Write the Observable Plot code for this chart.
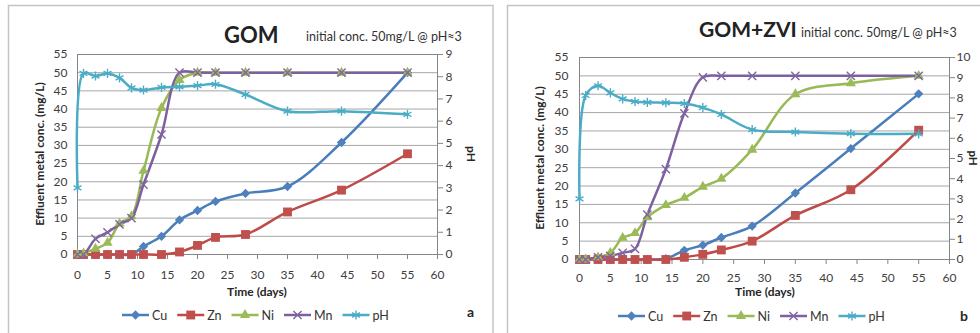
<!DOCTYPE html>
<html><head><meta charset="utf-8">
<script src="https://cdn.jsdelivr.net/npm/d3@7"></script>
<script src="https://cdn.jsdelivr.net/npm/@observablehq/plot@0.6"></script>
<style>
html,body{margin:0;padding:0;background:#fff;}
#root{position:relative;width:980px;height:333px;overflow:hidden;font-family:Lato,"Open Sans",sans-serif;}
#root svg{position:absolute;top:0;}
</style></head><body><div id="root"></div>
<script>
// ---- data ----
const days = [0,1,3,5,7,9,11,14,17,20,23,28,35,44,55];
// Panel a: GOM
const gomCu = [0,0,0,0,0,0,2.2,5,9.5,12.1,14.6,16.8,18.7,30.8,50];
const gomZn = [0,0,0,0,0,0,0,0,0.7,2.5,4.7,5.5,11.7,17.7,27.7];
const gomNi = [0,0.3,1.6,3.2,8.5,10.5,23,40.3,48,50,50,50,50,50,50];
const gomMn = [0,0,4.3,6.1,8.3,10,19.2,33,50,50,50,50,50,50,50];
const gomPH = [3.0,8.15,8.03,8.15,7.95,7.5,7.4,7.52,7.54,7.6,7.66,7.2,6.45,6.45,6.31];
// Panel b: GOM+ZVI
const zviCu = [0,0,0,0,0,0,0,0.2,2.5,3.9,6,9.1,18.1,30.2,45.1];
const zviZn = [0,0,0,0,0,0,0,0,0.6,1.4,2.6,5,12,19,35.2];
const zviNi = [0,0,0.6,1.8,5.9,7.2,11.5,14.8,16.8,19.8,22,29.9,45,48,50];
const zviMn = [0,0,0.6,1,1.8,2.9,12.2,24.6,39.8,49.6,50,50,50,50,50];
const zviPH = [3.0,8.12,8.6,8.25,7.95,7.82,7.78,7.76,7.72,7.52,7.18,6.43,6.31,6.23,6.22];

const seriesNames = ["Cu","Zn","Ni","Mn","pH"];
const xTicks = d3.range(0,61,5);
const concTicks = d3.range(0,56,5);
const gomPhTicks = d3.range(0,10);
const zviPhTicks = d3.range(0,11);
const concMax = 55;

// ---- styles ----
const style = {
  Cu:{line:"#4A7EBB", mark:"#4F81BD", symbol:"diamond2", r:4.2, filled:true},
  Zn:{line:"#BE4B48", mark:"#C0504D", symbol:"square", r:5, filled:true},
  Ni:{line:"#98B954", mark:"#9BBB59", symbol:"triangle", r:3.8, filled:true},
  Mn:{line:"#7D60A0", mark:"#8064A2", symbol:"times", r:3.8, filled:false},
  pH:{line:"#4BACC6", mark:"#4BACC6", symbol:"asterisk", r:4.3, filled:false}
};
const root = document.getElementById("root");

function makeChart(cfg){
  const k = concMax/cfg.phMax;
  const rows = name => days.map((t,i)=>({t, v: name==="pH" ? cfg.data[name][i]*k : cfg.data[name][i]}));
  const lineMarks = seriesNames.map(n => Plot.line(rows(n), {x:"t", y:"v", stroke:style[n].line, strokeWidth:2.5, curve:"catmull-rom"}));
  const dotMarks = seriesNames.map(n => {
    const s = style[n];
    return Plot.dot(rows(n), s.filled
      ? {x:"t", y:"v", symbol:s.symbol, r:s.r, fill:s.mark, stroke:"none"}
      : {x:"t", y:"v", symbol:s.symbol, r:s.r, fill:"none", stroke:s.mark, strokeWidth:1.4});
  });
  const svg = Plot.plot({
    width: cfg.width, height: 333,
    marginLeft: cfg.ml, marginRight: cfg.mr, marginTop: cfg.mt, marginBottom: cfg.mb,
    x:{domain:[0,60]}, y:{domain:[0,concMax]},
    style:{fontFamily:"Lato, 'Open Sans', sans-serif", fontSize:"12px", color:"#404040", background:"transparent", overflow:"visible"},
    marks:[
      Plot.gridY(concTicks.filter(d=>d>0), {stroke:"#a6a6a6", strokeOpacity:1}),
      Plot.frame({stroke:"#868686"}),
      Plot.axisX(xTicks, {tickSize:5, tickPadding:cfg.xPad, stroke:"#868686", fill:"#404040", label:null}),
      Plot.axisY(concTicks, {anchor:"left", tickSize:0, tickPadding:cfg.yPad, fill:"#404040", label:null}),
      Plot.axisY(cfg.phTicks.map(d=>d*k), {anchor:"right", tickSize:5, tickPadding:cfg.rPad, stroke:"#868686", fill:"#404040", tickFormat:d=>String(Math.round(d/k)), label:null}),
      ...lineMarks,
      ...dotMarks
    ]
  });
  svg.style.left = cfg.left + "px";
  root.appendChild(svg);
}

// ---- decorations (borders, titles, axis titles, legends) ----
const NS = "http://www.w3.org/2000/svg";
const deco = document.createElementNS(NS,"svg");
deco.setAttribute("width",980); deco.setAttribute("height",333);
deco.style.left="0px";
root.appendChild(deco);
function el(tag, attrs, text){
  const e = document.createElementNS(NS, tag);
  for (const a in attrs) e.setAttribute(a, attrs[a]);
  if (text != null) e.textContent = text;
  deco.appendChild(e); return e;
}
const FONT = "Lato, 'Open Sans', sans-serif";
el("rect",{x:8.5,y:5.5,width:484.5,height:340,fill:"none",stroke:"#c4c4c4","stroke-width":1.5});
el("rect",{x:507.5,y:5.5,width:480,height:340,fill:"none",stroke:"#c4c4c4","stroke-width":1.5});

function titles(p){
  el("text",{x:p.tx,y:p.ty,"font-family":FONT,"font-size":p.tfs,"font-weight":"bold",fill:"#222"},p.title);
  el("text",{x:p.sx,y:p.sy,"font-family":FONT,"font-size":12.5,fill:"#333"},"initial conc. 50mg/L @ pH≈3");
  el("text",{x:0,y:0,"font-family":FONT,"font-size":12,"font-weight":"bold",fill:"#262626","text-anchor":"middle",transform:`translate(${p.yx},${p.yy}) rotate(-90)`},"Effluent metal conc. (mg/L)");
  el("text",{x:0,y:0,"font-family":FONT,"font-size":p.pfs,"font-weight":"bold",fill:"#262626","text-anchor":"middle",transform:`translate(${p.px},${p.py}) rotate(90)`},"pH");
  el("text",{x:p.xx,y:p.xy,"font-family":FONT,"font-size":12,"font-weight":"bold",fill:"#262626","text-anchor":"middle"},"Time (days)");
  el("text",{x:p.lx,y:p.ly,"font-family":FONT,"font-size":14,"font-weight":"bold",fill:"#262626"},p.letter);
  // legend
  const symMap = {diamond2:d3.symbolDiamond2, square:d3.symbolSquare, triangle:d3.symbolTriangle, times:d3.symbolTimes, asterisk:d3.symbolAsterisk};
  let x = p.legX;
  seriesNames.forEach(n=>{
    const s = style[n];
    el("line",{x1:x,x2:x+27,y1:p.legY,y2:p.legY,stroke:s.line,"stroke-width":2.5});
    const path = d3.symbol(symMap[s.symbol], Math.PI*s.r*s.r)();
    el("path",{d:path,transform:`translate(${x+13.5},${p.legY})`,fill:s.filled?s.mark:"none",stroke:s.filled?"none":s.mark,"stroke-width":1.4});
    const t = el("text",{x:x+30,y:p.legY+5,"font-family":FONT,"font-size":12.5,fill:"#333"},n);
    x += 30 + t.getComputedTextLength() + 10;
  });
}
titles({title:"GOM",tx:224,ty:43,tfs:22,sx:306,sy:41,yx:44,yy:154,px:467,py:154,pfs:12,xx:257,xy:296,lx:467,ly:317,letter:"a",legX:122,legY:315});
titles({title:"GOM+ZVI",tx:699,ty:37,tfs:21,sx:801,sy:37,yx:544,yy:158,px:969,py:158,pfs:11.5,xx:765,xy:296,lx:960,ly:321,letter:"b",legX:618,legY:316});

makeChart({data:{Cu:gomCu,Zn:gomZn,Ni:gomNi,Mn:gomMn,pH:gomPH}, phMax:9, phTicks:gomPhTicks,
  left:8, width:485, ml:69, mr:56, mt:54, mb:79, xPad:11, yPad:10, rPad:3});
makeChart({data:{Cu:zviCu,Zn:zviZn,Ni:zviNi,Mn:zviMn,pH:zviPH}, phMax:10, phTicks:zviPhTicks,
  left:507, width:473, ml:72, mr:31, mt:57, mb:74, xPad:9, yPad:11, rPad:2});
</script></body></html>
